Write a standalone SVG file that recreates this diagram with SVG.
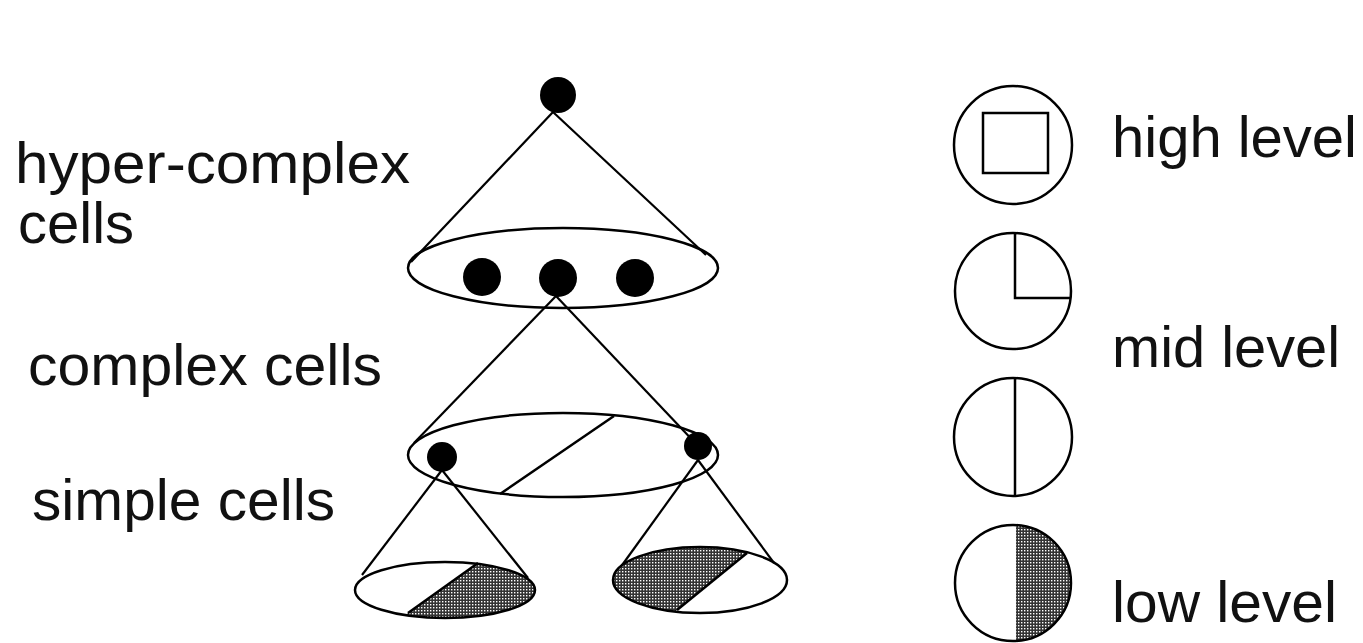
<svg xmlns="http://www.w3.org/2000/svg" width="1363" height="643" viewBox="0 0 1363 643">
<style>
.o{fill:none;stroke:#000;stroke-width:2.5}
.w{fill:#fff;stroke:#000;stroke-width:2.5}
.d{fill:#000}
.t{font-family:"Liberation Sans",Arial,sans-serif;font-size:58px;fill:#111}
.c{stroke:#000;stroke-width:2.2;fill:none}
</style>
<defs>
<pattern id="dots" width="3" height="3" patternUnits="userSpaceOnUse">
<rect width="3" height="3" fill="#333"/>
<rect x="1" y="1" width="1.4" height="1.4" fill="#fff"/>
</pattern>
<clipPath id="clipL"><ellipse cx="445" cy="590" rx="90" ry="28"/></clipPath>
<clipPath id="clipR"><ellipse cx="700" cy="580" rx="87" ry="33"/></clipPath>
<clipPath id="clipLeg"><circle cx="1013" cy="583" r="58"/></clipPath>
</defs>
<rect width="1363" height="643" fill="#fff"/>

<g id="labels">
<text class="t" x="15" y="183" textLength="395" lengthAdjust="spacingAndGlyphs">hyper-complex</text>
<text class="t" x="18" y="243">cells</text>
<text class="t" x="28" y="385" textLength="354" lengthAdjust="spacingAndGlyphs">complex cells</text>
<text class="t" x="32" y="520" textLength="303" lengthAdjust="spacingAndGlyphs">simple cells</text>
</g>

<g id="connectors">
<line class="c" x1="553" y1="112" x2="411" y2="262"/>
<line class="c" x1="553" y1="112" x2="706" y2="255"/>
<line class="c" x1="556" y1="296" x2="414" y2="443"/>
<line class="c" x1="556" y1="296" x2="699" y2="447"/>
<line class="c" x1="442" y1="470" x2="362" y2="575"/>
<line class="c" x1="442" y1="470" x2="528" y2="578"/>
<line class="c" x1="698" y1="460" x2="620" y2="568"/>
<line class="c" x1="698" y1="460" x2="774" y2="563"/>
</g>

<g id="top-node">
<circle class="d" cx="558" cy="95" r="18"/>
</g>

<g id="hyper-layer">
<ellipse class="o" cx="563" cy="268" rx="155" ry="40"/>
<circle class="d" cx="482" cy="277" r="19"/>
<circle class="d" cx="558" cy="278" r="19"/>
<circle class="d" cx="635" cy="278" r="19"/>
</g>

<g id="complex-layer">
<ellipse class="o" cx="563" cy="455" rx="155" ry="42"/>
<line class="o" x1="614" y1="416" x2="500" y2="494"/>
<circle class="d" cx="442" cy="457" r="15"/>
<circle class="d" cx="698" cy="446" r="14"/>
</g>

<g id="simple-left">
<polygon clip-path="url(#clipL)" fill="url(#dots)" points="489,555 545,555 545,625 391,625"/>
<line class="o" x1="478" y1="563" x2="408" y2="613"/>
<ellipse class="o" cx="445" cy="590" rx="90" ry="28"/>
</g>

<g id="simple-right">
<polygon clip-path="url(#clipR)" fill="url(#dots)" points="600,540 763,540 665,620 600,620"/>
<line class="o" x1="747" y1="553" x2="677" y2="610"/>
<ellipse class="o" cx="700" cy="580" rx="87" ry="33"/>
</g>

<g id="legend-high">
<circle class="o" cx="1013" cy="145" r="59"/>
<rect class="o" x="983" y="113" width="65" height="60"/>
<text class="t" x="1112" y="157" textLength="245" lengthAdjust="spacingAndGlyphs">high level</text>
</g>

<g id="legend-mid">
<circle class="o" cx="1013" cy="291" r="58"/>
<polyline class="o" points="1015,233 1015,298 1071,298"/>
<circle class="o" cx="1013" cy="437" r="59"/>
<line class="o" x1="1015" y1="378" x2="1015" y2="496"/>
<text class="t" x="1112" y="367" textLength="228" lengthAdjust="spacingAndGlyphs">mid level</text>
</g>

<g id="legend-low">
<rect clip-path="url(#clipLeg)" fill="url(#dots)" x="1016" y="520" width="60" height="125"/>
<circle class="o" cx="1013" cy="583" r="58"/>
<text class="t" x="1112" y="622" textLength="225" lengthAdjust="spacingAndGlyphs">low level</text>
</g>
</svg>
